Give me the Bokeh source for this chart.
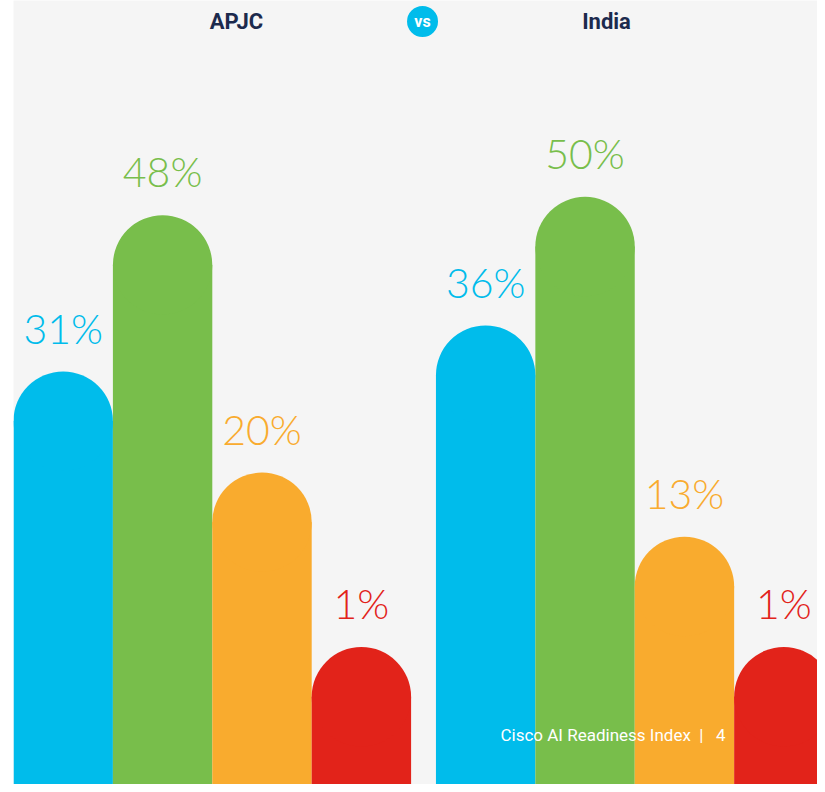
import numpy as np
from bokeh.plotting import figure
from bokeh.models import Range1d, ColumnDataSource, Label
from bokeh.core.properties import value
from bokeh.embed import file_html
from bokeh.resources import INLINE

# ---- data ----
groups = ["APJC", "India"]
apjc_values = [31, 48, 20, 1]
india_values = [36, 50, 13, 1]
bar_colors = ["#00bceb", "#78be4b", "#f9ab2e", "#e2231a"]
vs_text = "vs"
footer_text = "Cisco AI Readiness Index\u00a0\u00a0|\u00a0\u00a0 4"
group_gap = 0.25

xs, tops, cols, labels = [], [], [], []
for g, vals in enumerate([apjc_values, india_values]):
    for i, v in enumerate(vals):
        xs.append(g * (len(vals) + group_gap) + i + 0.5)
        tops.append(v)
        cols.append(bar_colors[i])
        labels.append(f"{v}%")

src = ColumnDataSource(dict(x=xs, top=tops, color=cols, label=labels))

y0, y1 = -8.55, 76.78
p = figure(width=817, height=784, output_backend="svg", toolbar_location=None,
           x_range=Range1d(0, 804 / 99.4), y_range=Range1d(y0, y1),
           x_axis_location=None, y_axis_location=None,
           min_border=0, min_border_left=13,
           background_fill_color="#f5f5f5", border_fill_color="white",
           outline_line_color=None)
p.grid.visible = False

p.vbar(x="x", top="top", bottom=y0 - 5, width=1, color="color", line_color=None, source=src)
p.circle(x="x", y="top", radius=0.5, color="color", line_color=None, source=src)

p.text(x="x", y="top", text="label", text_color="color", text_align="center",
       text_baseline="alphabetic", y_offset=-93, text_font=value("Lato Light"),
       text_font_size="41px", source=src)

# titles
title_x = [2.243, 5.966]
for gx, name in zip(title_x, groups):
    p.add_layout(Label(x=gx, y=74.49, text=name, text_align="center", text_baseline="middle",
                       text_font="Roboto", text_font_style="bold", text_font_size="22px",
                       text_color="#1c2a4d"))

p.scatter(x=[4.115], y=[74.49], size=31, marker="circle", fill_color="#00bceb", line_color=None)
p.add_layout(Label(x=4.115, y=74.49, text=vs_text, text_align="center", text_baseline="middle",
                   text_font="Roboto", text_font_style="bold", text_font_size="16px",
                   text_color="white"))

p.add_layout(Label(x=4.899, y=-3.11, text=footer_text, text_align="left", text_baseline="alphabetic",
                   text_font="Roboto", text_font_size="17px", text_color="white"))

open("out.html", "w").write(file_html(p, INLINE))
